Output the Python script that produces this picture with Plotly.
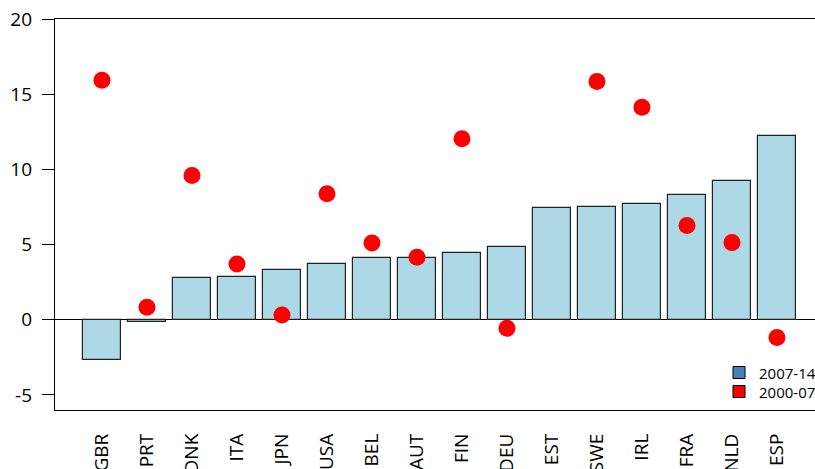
import plotly.graph_objects as go

countries = ["GBR", "PRT", "DNK", "ITA", "JPN", "USA", "BEL", "AUT",
             "FIN", "DEU", "EST", "SWE", "IRL", "FRA", "NLD", "ESP"]
growth_2007_14 = [-2.67, -0.15, 2.76, 2.82, 3.32, 3.71, 4.11, 4.11,
                  4.42, 4.87, 7.40, 7.49, 7.67, 8.33, 9.22, 12.20]
growth_2000_07 = [15.93, 0.84, 9.60, 3.71, 0.31, 8.38, 5.11, 4.16,
                  12.04, -0.56, None, 15.84, 14.13, 6.27, 5.13, -1.18]
legend_labels = ["2007-14", "2000-07"]
y_ticks = [-5, 0, 5, 10, 15, 20]
y_tick_labels = ["-5", "0", "5", "10", "15", "20"]

FONT = "Open Sans"
W, H = 815, 469
ML, MT, MB, MR = 55, 19, 59, 0
PW, PH = W - ML - MR, H - MT - MB

def px_to_paper(x, y):
    return (x - ML) / PW, (H - MB - y) / PH

fig = go.Figure()
fig.add_trace(go.Bar(
    x=list(range(len(countries))), y=growth_2007_14, width=0.85,
    marker=dict(color="#ADD8E6", line=dict(color="#222222", width=1.2)),
    showlegend=False, name=legend_labels[0],
))
fig.add_trace(go.Scatter(
    x=list(range(len(countries))), y=growth_2000_07, mode="markers",
    marker=dict(color="#FF0000", size=17), showlegend=False, name=legend_labels[1],
))

# manual legend
shapes = []
annotations = []
for i, (lab, col) in enumerate(zip(legend_labels, ["#4682B4", "#FF0000"])):
    cy = 372.5 + i * 19
    x0, y0 = px_to_paper(733, cy + 6)
    x1, y1 = px_to_paper(745, cy - 6)
    shapes.append(dict(type="rect", xref="paper", yref="paper", x0=x0, x1=x1,
                       y0=y0, y1=y1, fillcolor=col, line=dict(color="black", width=1)))
    tx, ty = px_to_paper(757, cy)
    annotations.append(dict(xref="paper", yref="paper", x=tx, y=ty, text=lab,
                            showarrow=False, xanchor="left", yanchor="middle",
                            font=dict(family=FONT, size=15, color="black")))

fig.update_layout(
    width=W, height=H,
    margin=dict(l=ML, r=MR, t=MT, b=MB, pad=0),
    paper_bgcolor="white", plot_bgcolor="white",
    font=dict(family=FONT, color="black"),
    shapes=shapes, annotations=annotations,
    bargap=0,
)
fig.update_xaxes(
    range=[-1.044, -1.044 + PW / 45.0], automargin=False,
    tickmode="array", tickvals=list(range(len(countries))), ticktext=countries,
    tickangle=-90, tickfont=dict(family=FONT, size=19, color="black"),
    showline=True, linecolor="black", linewidth=1.2, mirror=True,
    showgrid=False, zeroline=False, ticks="", ticklabelstandoff=15,
)
fig.update_yaxes(
    range=[-6, 20], tickmode="array", tickvals=y_ticks, ticktext=y_tick_labels,
    automargin=False,
    tickfont=dict(family=FONT, size=19, color="black"),
    showline=True, linecolor="black", linewidth=1.2, mirror=False,
    showgrid=False, zeroline=True, zerolinecolor="black", zerolinewidth=1.2,
    ticks="outside", ticklen=12, tickcolor="black", tickwidth=1.2,
    ticklabelstandoff=6,
)
fig.write_html(
    "out.html",
    config={"displayModeBar": False},
    post_script="document.body.style.margin='0';document.body.style.overflow='hidden';",
)
